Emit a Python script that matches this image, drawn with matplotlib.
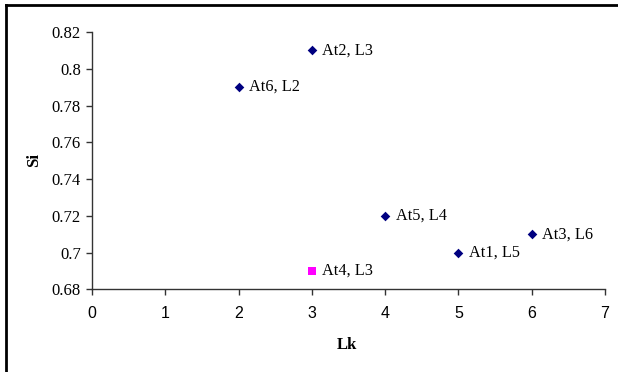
import matplotlib
matplotlib.use("Agg")
import matplotlib.pyplot as plt
from matplotlib.lines import Line2D

labels = ["At1, L5", "At2, L3", "At3, L6", "At5, L4", "At6, L2"]
lk = [5, 3, 6, 4, 2]
si = [0.70, 0.81, 0.71, 0.72, 0.79]

hl_labels = ["At4, L3"]
hl_lk = [3]
hl_si = [0.69]

xticks = [0, 1, 2, 3, 4, 5, 6, 7]
yticks = [0.68, 0.70, 0.72, 0.74, 0.76, 0.78, 0.80, 0.82]
ytick_labels = ["0.68", "0.7", "0.72", "0.74", "0.76", "0.78", "0.8", "0.82"]

fig = plt.figure(figsize=(6.18, 3.72), dpi=100)
ax = fig.add_axes([92/618, 1-289.3/372, (605-92)/618, (289.3-32)/372])

ax.scatter(lk, si, marker="D", s=24, color="#000080", zorder=3, linewidths=0)
ax.scatter(hl_lk, hl_si, marker="s", s=32, color="#FF00FF", zorder=3, linewidths=0)

for x, y, t in zip(lk + hl_lk, si + hl_si, labels + hl_labels):
    ax.annotate(t, (x, y), xytext=(7.5, 0), textcoords="offset points",
                va="center", ha="left", family="Liberation Serif", fontsize=11.7)

ax.set_xlim(0, 7)
ax.set_ylim(0.68, 0.82)
ax.set_xticks(xticks)
ax.set_yticks(yticks)
ax.set_yticklabels(ytick_labels, family="Liberation Serif", fontsize=12)
ax.set_xticklabels([str(v) for v in xticks], family="Liberation Sans", fontsize=11.5)
ax.tick_params(axis="both", direction="out", length=4, width=1, color="#333333")
ax.tick_params(axis="x", pad=8)
ax.tick_params(axis="y", pad=4)

for s in ["top", "right"]:
    ax.spines[s].set_visible(False)
for s in ["left", "bottom"]:
    ax.spines[s].set_color("#333333")
    ax.spines[s].set_linewidth(1)

fig.text(34/618, 1-160/372, "Si", rotation=90, ha="center", va="center",
         family="Liberation Serif", fontweight="bold", fontsize=12)
fig.text(347/618, 1-345/372, "Lk", ha="center", va="center",
         family="Liberation Serif", fontweight="bold", fontsize=12)

fig.add_artist(Line2D([5.5/618, 1], [1-5/372, 1-5/372], color="black", lw=2))
fig.add_artist(Line2D([5.5/618, 5.5/618], [0, 1-5/372], color="black", lw=2))

fig.savefig("out.png", dpi=100)
